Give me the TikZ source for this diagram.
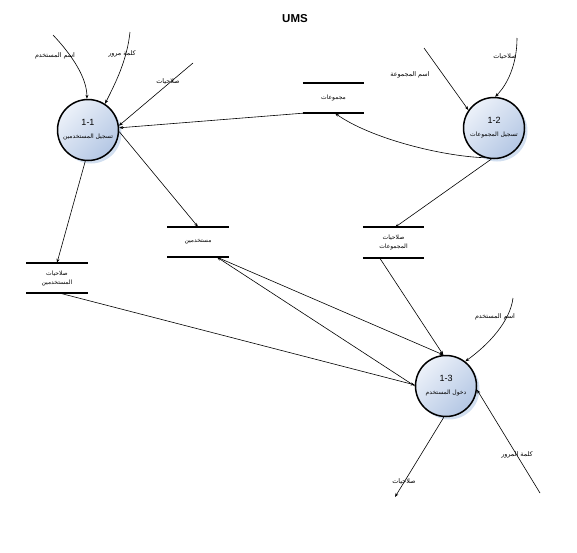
\documentclass[tikz,border=0pt]{standalone}
\usepackage{fontspec}
\setmainfont{Liberation Sans}
\newfontfamily\arabicfont[Script=Arabic]{DejaVu Sans}
\TeXXeTstate=1
\usepackage{tikz}
\usetikzlibrary{positioning,shadows,arrows.meta}
\tikzstyle{diagram} = [x = 1pt, y = -1pt]
\definecolor{processLight}{RGB}{236,241,249}
\definecolor{processDark}{RGB}{180,199,228}
\definecolor{shadowBlue}{RGB}{210,223,240}
\tikzstyle{processStyle} = [circle, draw=black, line width=1.5pt, minimum size=61pt, inner sep=0pt, align=center, top color=processLight, bottom color=processDark, shading angle=45, drop shadow={shadow xshift=3pt, shadow yshift=-3pt, fill=shadowBlue, opacity=1}]
\tikzstyle{storeStyle} = [minimum width=61pt, minimum height=30pt, inner sep=0pt, align=center, font=\arabicfont\fontsize{6}{9}\selectfont]
\tikzstyle{storeLine} = [line width=1.8pt]
\tikzstyle{flowLine} = [line width=0.6pt, -{Stealth[length=4pt, width=3pt]}]
\tikzstyle{flowLabel} = [font=\arabicfont\fontsize{6.4}{7}\selectfont, inner sep=1pt]
\newcommand{\dataStore}[3]{
  \node [storeStyle] (#1) at (#2) {#3};
  \draw [storeLine] (#1.north west) -- (#1.north east) (#1.south west) -- (#1.south east);
}
\newcommand{\processCircle}[4]{
  \node [processStyle] (#1) at (#2) {\fontsize{9}{10}\selectfont #3\\[1pt]\arabicfont\fontsize{6}{7}\selectfont #4};
}
\newcommand{\flowText}[3]{\node [flowLabel] (#1) at (#2) {#3};}

\begin{document}
\begin{tikzpicture}[diagram]
  \useasboundingbox (0,0) rectangle (577,552);
  \node (title) at (295,19) {\bfseries\fontsize{11.5}{13}\selectfont UMS};

  % processes
  \processCircle{userReg}{88,130}{1-1}{\beginR تسجيل المستخدمين\endR}
  \processCircle{groupReg}{494,128}{1-2}{\beginR تسجيل المجموعات\endR}
  \processCircle{login}{446,386}{1-3}{\beginR دخول المستخدم\endR}

  % data stores
  \dataStore{groups}{333.5,98}{\beginR مجموعات\endR}
  \dataStore{users}{198,242}{\beginR مستخدمين\endR}
  \dataStore{groupPerms}{393.5,242.5}{\beginR صلاحيات\endR\\\beginR المجموعات\endR}
  \dataStore{userPerms}{57,278}{\beginR صلاحيات\endR\\\beginR المستخدمين\endR}

  % free ends
  \coordinate (userNameIn) at (53,35);
  \coordinate (passwordIn) at (130,32);
  \coordinate (permsIn) at (193,63);
  \coordinate (groupNameIn) at (424,48);
  \coordinate (groupRightsIn) at (517,38);
  \coordinate (loginNameIn) at (513,298);
  \coordinate (loginPassIn) at (540,493);
  \coordinate (loginPermsOut) at (395,497);

  % flows
  \draw [flowLine] (userNameIn) .. controls (72,55) and (87,78) .. (userReg.92);
  \draw [flowLine] (passwordIn) .. controls (127,60) and (116,82) .. (userReg.57);
  \draw [flowLine] (permsIn) -- (userReg.8);
  \draw [flowLine] (groups.south west) -- (userReg.4);
  \draw [flowLine] (userReg.-3) -- (users.north);
  \draw [flowLine] (userReg.-95) -- (userPerms.north);
  \draw [flowLine] (groupNameIn) -- (groupReg.145);
  \draw [flowLine] (groupRightsIn) .. controls (517,65) and (507,85) .. (groupReg.88);
  \draw [flowLine] (groupReg.-108) .. controls (440,156) and (370,138) .. ([xshift=1.5pt]groups.south);
  \draw [flowLine] (groupReg.-95) -- ([xshift=1.5pt]groupPerms.north);
  \draw [flowLine] ([xshift=-14pt]groupPerms.south) -- (login.95);
  \draw [flowLine] ([xshift=19pt]users.south) -- (login.95);
  \draw [flowLine] (login.180) -- ([xshift=19pt]users.south);
  \draw [flowLine] ([xshift=3pt]userPerms.south) -- (login.178);
  \draw [flowLine] (loginNameIn) .. controls (510,322) and (488,345) .. (login.52);
  \draw [flowLine] (loginPassIn) -- (login.-7);
  \draw [flowLine] (login.-94) -- (loginPermsOut);

  % flow labels
  \flowText{userNameText}{55,56}{\beginR اسم المستخدم\endR}
  \flowText{passwordText}{122,54}{\beginR كلمة مرور\endR}
  \flowText{permsText}{168,82}{\beginR صلاحيات\endR}
  \flowText{groupNameText}{410,75}{\beginR اسم المجموعة\endR}
  \flowText{groupRightsText}{505,57}{\beginR صلاحيات\endR}
  \flowText{loginNameText}{495,317}{\beginR اسم المستخدم\endR}
  \flowText{loginPassText}{517,455}{\beginR كلمة المرور\endR}
  \flowText{loginPermsText}{404,482}{\beginR صلاحيات\endR}
\end{tikzpicture}
\end{document}
